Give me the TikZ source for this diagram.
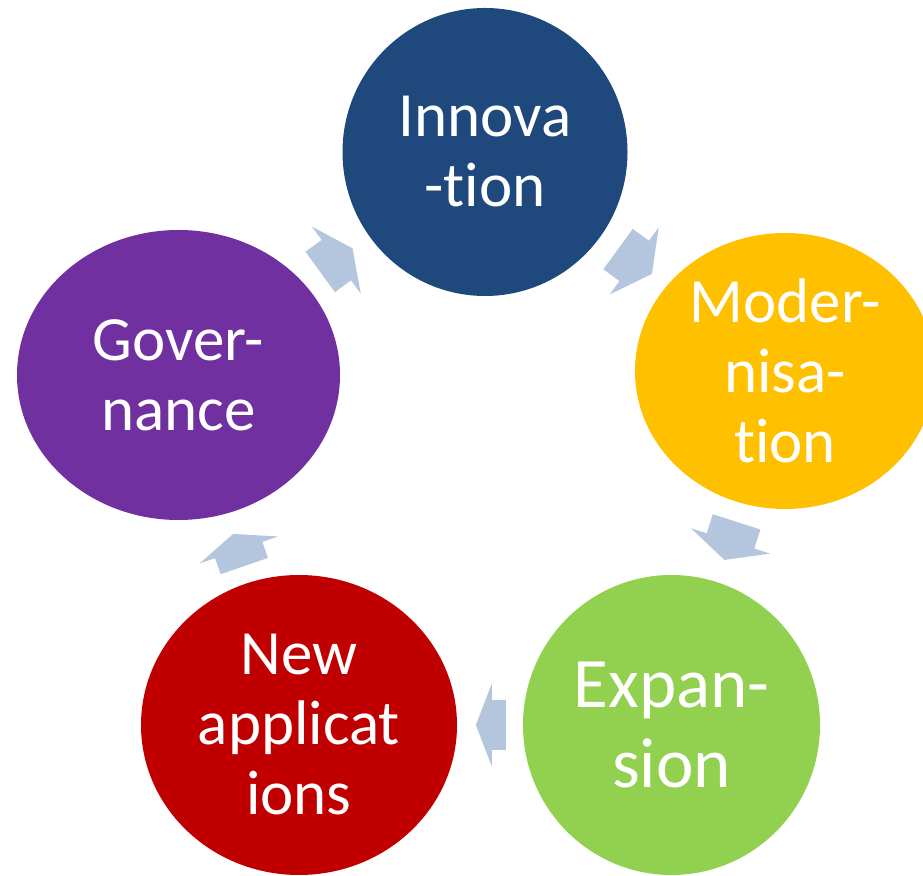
\documentclass[tikz,border=0pt]{standalone}
\usepackage{fontspec}
\setmainfont{Carlito}[Ligatures={NoCommon}]
\usetikzlibrary{shapes.geometric,calc}

\definecolor{innoblue}{HTML}{1F497D}
\definecolor{modyellow}{HTML}{FFC000}
\definecolor{expgreen}{HTML}{92D050}
\definecolor{appred}{HTML}{C00000}
\definecolor{govpurple}{HTML}{7030A0}
\definecolor{arrowfill}{HTML}{B4C5DE}

\tikzset{
  stage/.style={ellipse, inner sep=0pt, text=white, align=center,
    font=\fontsize{63}{70}\selectfont},
  cycleflow/.style={fill=arrowfill}
}

% block arrow between two stages: from, to, position along the line, length, head length
\newcommand\cyclearrow[5]{%
  \path let \p1=($(#2)-(#1)$), \n1={atan2(\y1,\x1)} in
    \pgfextra{\xdef\cyclearrowangle{\n1}};
  \begin{scope}[shift={($(#1)!#3!(#2)$)}, rotate=\cyclearrowangle]
    \fill[cycleflow] (-#4/2,-25) -- (#4/2-#5,-25) -- (#4/2-#5,-41.5) -- (#4/2,0)
      -- (#4/2-#5,41.5) -- (#4/2-#5,25) -- (-#4/2,25) -- cycle;
  \end{scope}%
}

\begin{document}
\begin{tikzpicture}[x=1pt,y=1pt]
\useasboundingbox (0,0) rectangle (923,875);
\clip (0,0) rectangle (923,875);

% the five stages of the cycle
\node[stage, fill=innoblue, minimum width=285, minimum height=288] (inno) at (485,723) {Innova\\-tion};
\node[stage, fill=modyellow, minimum width=300, minimum height=276] (mod) at (785,504) {Moder-\\nisa-\\tion};
\node[stage, fill=expgreen, minimum width=297, minimum height=300,
      font=\fontsize{71}{80}\selectfont] (exp) at (671.5,150) {Expan-\\sion};
\node[stage, fill=appred, minimum width=316, minimum height=300] (app) at (299,150) {New\\applicat\\ions};
\node[stage, fill=govpurple, minimum width=323, minimum height=290] (gov) at (178.5,500) {Gover-\\nance};

% clockwise arrows between neighbouring stages
\cyclearrow{inno}{mod}{0.5}{42}{22}
\cyclearrow{mod}{exp}{0.48}{40}{20}
\cyclearrow{exp}{app}{0.485}{30}{16}
\cyclearrow{app}{gov}{0.5}{34}{17}
\cyclearrow{gov}{inno}{0.515}{40}{20}
\end{tikzpicture}
\end{document}
